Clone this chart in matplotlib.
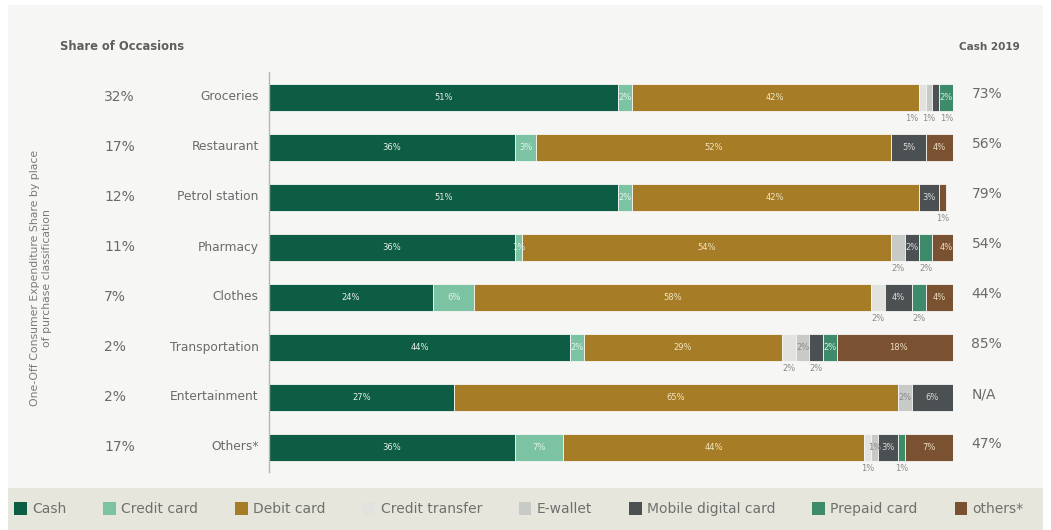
import matplotlib.pyplot as plt
from matplotlib.patches import Rectangle, Patch

plt.rcParams['font.family'] = ['DejaVu Sans']

# places of purchase, top to bottom
categories = ['Groceries', 'Restaurant', 'Petrol station', 'Pharmacy',
              'Clothes', 'Transportation', 'Entertainment', 'Others*']
share_occasions = ['32%', '17%', '12%', '11%', '7%', '2%', '2%', '17%']
cash_2019 = ['73%', '56%', '79%', '54%', '44%', '85%', 'N/A', '47%']

methods = ['Cash', 'Credit card', 'Debit card', 'Credit transfer',
           'E-wallet', 'Mobile digital card', 'Prepaid card', 'others*']

# expenditure share (%) per method, one list per method, rows as in categories
cash = [51, 36, 51, 36, 24, 44, 27, 36]
credit_card = [2, 3, 2, 1, 6, 2, 0, 7]
debit_card = [42, 52, 42, 54, 58, 29, 65, 44]
credit_transfer = [1, 0, 0, 0, 2, 2, 0, 1]
e_wallet = [1, 0, 0, 2, 0, 2, 2, 1]
mobile_card = [1, 5, 3, 2, 4, 2, 6, 3]
prepaid_card = [2, 0, 0, 2, 2, 2, 0, 1]
others = [0, 4, 1, 4, 4, 18, 0, 7]

# which small segments get their label under the bar: (row, method index)
below_labels = [(0, 3), (0, 4), (0, 5), (2, 7), (3, 4), (3, 6),
                (4, 3), (4, 6), (5, 3), (5, 5), (7, 3), (7, 6)]

series = [cash, credit_card, debit_card, credit_transfer, e_wallet,
          mobile_card, prepaid_card, others]
colors = ['#0d5c44', '#7cc3a3', '#a67c27', '#e2e2de', '#c8cac8',
          '#4b5052', '#3e8b6c', '#7b5231']
text_colors = ['#e9efe9', '#e4f3ea', '#f1e6c0', '#8a8a8a', '#8a8a8a',
               '#dcdcdc', '#d7ede2', '#ecdcc4']

W, H = 1051, 530
fig = plt.figure(figsize=(W / 100, H / 100), dpi=100, facecolor='white')

# background panel and legend strip
fig.patches.append(Rectangle((8 / W, 42 / H), 1035 / W, 483 / H,
                             transform=fig.transFigure, facecolor='#f6f6f4',
                             edgecolor='none', zorder=-2))
fig.patches.append(Rectangle((8 / W, 0), 1035 / W, 42 / H,
                             transform=fig.transFigure, facecolor='#e7e6dc',
                             edgecolor='none', zorder=-2))

ax = fig.add_axes([269 / W, 1 - 472 / H, 684 / W, 400 / H])
ax.set_facecolor('none')
ax.set_xlim(0, 100)
ax.set_ylim(len(categories) - 0.5, -0.5)

rows = list(range(len(categories)))
left = [0] * len(categories)
for k, vals in enumerate(series):
    ax.barh(rows, vals, left=left, height=0.54, color=colors[k],
            edgecolor='#f6f6f4', linewidth=0.6)
    for r, v in enumerate(vals):
        if v == 0 or (r, k) in below_labels:
            continue
        ax.text(left[r] + v / 2, r, f'{v}%', ha='center', va='center',
                fontsize=6, color=text_colors[k])
    left = [a + b for a, b in zip(left, vals)]

# labels under the bars, spread apart where segments are narrow
for r in rows:
    items = []
    for k in range(len(series)):
        if (r, k) in below_labels:
            start = sum(series[j][r] for j in range(k))
            items.append((start + series[k][r] / 2, series[k][r]))
    if not items:
        continue
    xs = [x for x, _ in items]
    gap = 2.6
    if len(xs) > 1 and min(b - a for a, b in zip(xs, xs[1:])) < gap:
        mid = sum(xs) / len(xs)
        xs = [mid + (i - (len(xs) - 1) / 2) * gap for i in range(len(xs))]
    for x, (_, v) in zip(xs, items):
        ax.text(x, r + 0.43, f'{v}%', ha='center', va='center',
                fontsize=6, color='#8a8a8a')

ytr = ax.get_yaxis_transform()
for r, name in enumerate(categories):
    ax.text(-0.015, r, name, transform=ytr, ha='right', va='center',
            fontsize=8.8, color='#6a6a6a')
    ax.text(-0.241, r, share_occasions[r], transform=ytr, ha='left',
            va='center', fontsize=10, color='#6a6a6a')
    ax.text(1.027, r - 0.05, cash_2019[r], transform=ytr, ha='left',
            va='center', fontsize=10, color='#6a6a6a')

for side in ['top', 'right', 'bottom']:
    ax.spines[side].set_visible(False)
ax.spines['left'].set_color('#b5b5b5')
ax.spines['left'].set_linewidth(1)
ax.set_xticks([])
ax.set_yticks([])

fig.text(60 / W, 1 - 47 / H, 'Share of Occasions', ha='left', va='center',
         fontsize=8.3, fontweight='bold', color='#5e5e5e')
fig.text(1020 / W, 1 - 47 / H, 'Cash 2019', ha='right', va='center',
         fontsize=7.5, fontweight='bold', color='#5e5e5e')
fig.text(41 / W, 1 - 278 / H,
         'One-Off Consumer Expenditure Share by place\nof purchase classification',
         rotation=90, ha='center', va='center', fontsize=7.8, color='#7a7a7a',
         linespacing=1.3)

handles = [Patch(facecolor=c, edgecolor='none') for c in colors]
leg = fig.legend(handles, methods, loc='center', ncol=8,
                 bbox_to_anchor=(519 / W, 21 / H), frameon=False, fontsize=10,
                 handlelength=0.9, handleheight=1.1, handletextpad=0.4,
                 columnspacing=2.65, labelcolor='#6f6f6f')

fig.savefig('out.png', dpi=100, facecolor=fig.get_facecolor())
